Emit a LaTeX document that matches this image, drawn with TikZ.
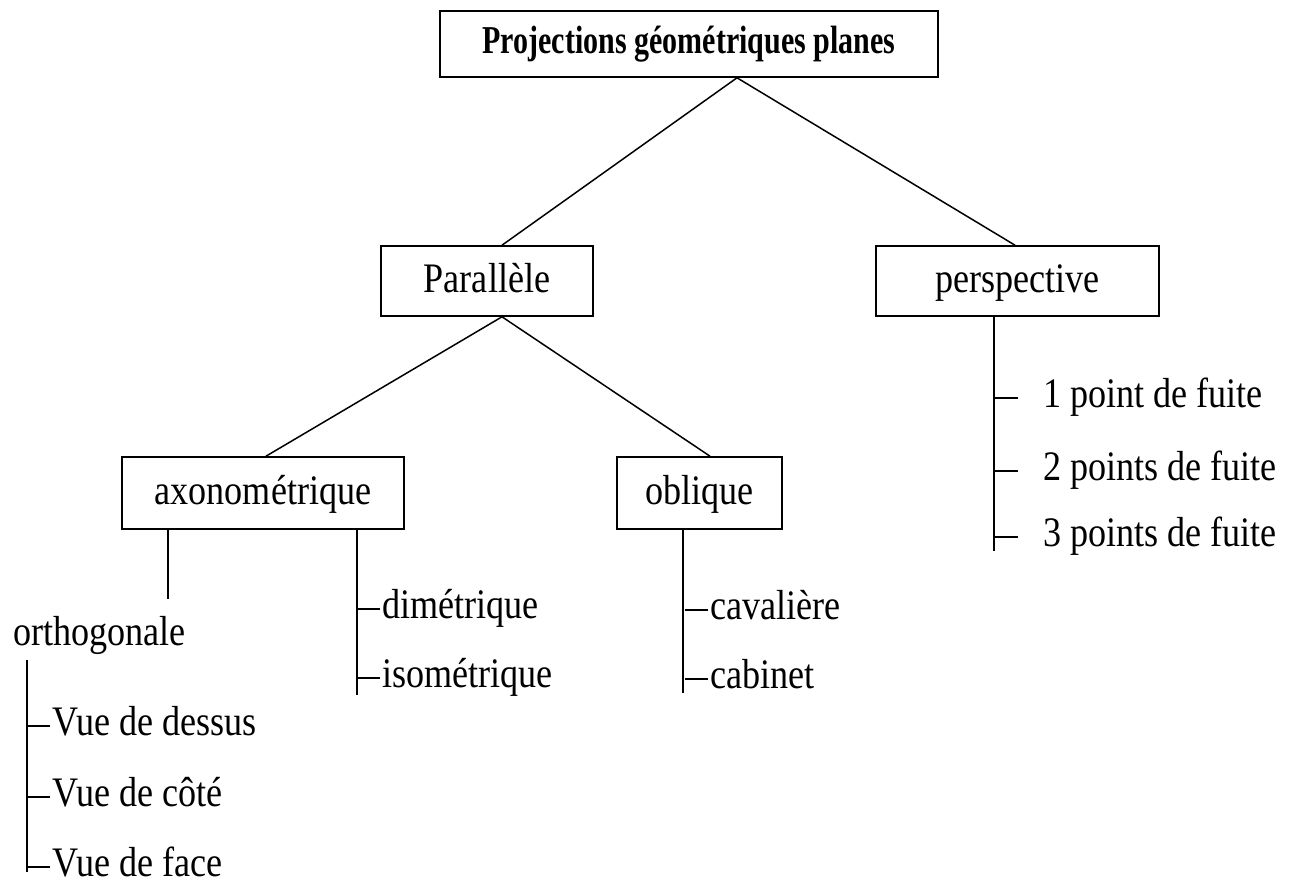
\documentclass[tikz,border=0pt]{standalone}
\usepackage{fontspec}
\setmainfont{Liberation Serif}[FakeStretch=0.86]
\newfontfamily\titlefont{Liberation Serif}[FakeStretch=0.76]
\begin{document}
\begin{tikzpicture}[x=1pt,y=-1pt,
  box/.style={draw, line width=1.6pt, inner sep=0pt, text height=28pt, text depth=6pt,
    font=\fontsize{42}{46}\selectfont},
  leaf/.style={inner sep=0pt, anchor=base west, font=\fontsize{42}{46}\selectfont},
  link/.style={line width=1.5pt}]
\useasboundingbox (0,0) rectangle (1294,883);

% boxes of the tree
\node[box, minimum width=498pt, minimum height=66pt, text height=26pt, text depth=7pt,
  font=\titlefont\bfseries\fontsize{39.5}{43}\selectfont] (root) at (689,44)
  {Projections géométriques planes};
\node[box, minimum width=212pt, minimum height=70pt] (par) at (487,281) {Parallèle};
\node[box, minimum width=283pt, minimum height=70pt] (persp) at (1017.5,281) {perspective};
\node[box, minimum width=282pt, minimum height=72pt] (axo) at (263,493) {axonométrique};
\node[box, minimum width=165pt, minimum height=72pt] (obl) at (699.5,493) {oblique};

% leaves
\node[leaf] (ortho) at (13,645) {orthogonale};
\node[leaf] (dim) at (382,618) {dimétrique};
\node[leaf] (iso) at (382,687) {isométrique};
\node[leaf] (cav) at (710,619) {cavalière};
\node[leaf] (cab) at (710,688) {cabinet};
\node[leaf] (dessus) at (52,735) {Vue de dessus};
\node[leaf] (cote) at (52,806) {Vue de côté};
\node[leaf] (face) at (52,876) {Vue de face};
\node[leaf] (p1) at (1043,407) {1 point de fuite};
\node[leaf] (p2) at (1043,480) {2 points de fuite};
\node[leaf] (p3) at (1043,546) {3 points de fuite};

% oblique branches
\draw[link] ([xshift=48pt]root.south) -- ([xshift=15pt]par.north);
\draw[link] ([xshift=48pt]root.south) -- ([xshift=-2.5pt]persp.north);
\draw[link] ([xshift=15pt]par.south) -- ([xshift=3pt]axo.north);
\draw[link] ([xshift=15pt]par.south) -- ([xshift=10.5pt]obl.north);

% vertical stems
\draw[link] ([xshift=-95pt]axo.south) -- ++(0,69);
\draw[link] ([xshift=94pt]axo.south) -- ++(0,165);
\draw[link] ([xshift=-16.5pt]obl.south) -- ++(0,163);
\draw[link] ([xshift=-23.5pt]persp.south) -- ++(0,234);
\draw[link] ([xshift=14pt,yshift=-15pt]ortho.base west) -- ++(0,212);

% ticks to the leaves
\foreach \n in {dim,iso,cav,cab,dessus,cote,face}
  \draw[link] ([xshift=-2pt,yshift=9pt]\n.base west) -- ++(-23,0);
\foreach \n in {p1,p2,p3}
  \draw[link] ([xshift=-25pt,yshift=9pt]\n.base west) -- ++(-24,0);
\end{tikzpicture}
\end{document}
